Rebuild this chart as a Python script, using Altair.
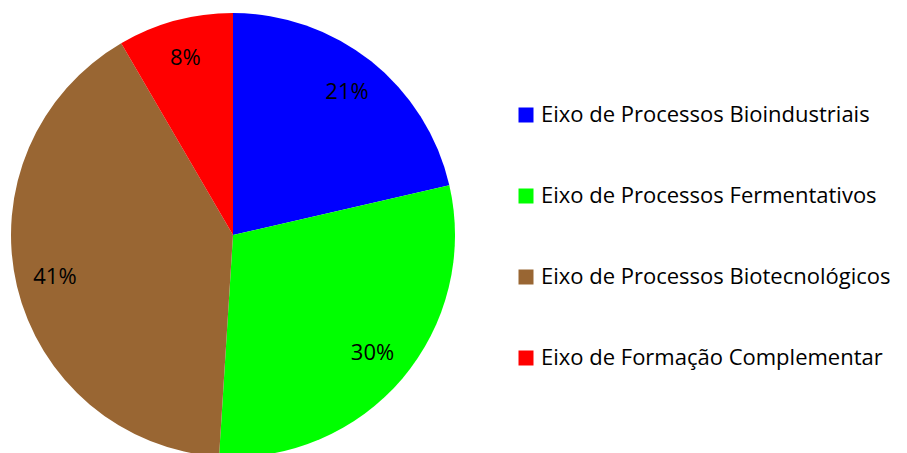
import altair as alt
import pandas as pd

categories = [
    "Eixo de Processos Bioindustriais",
    "Eixo de Processos Fermentativos",
    "Eixo de Processos Biotecnológicos",
    "Eixo de Formação Complementar",
]
values = [21.4, 29.6, 40.6, 8.4]
colors = ["#0000FF", "#00FF00", "#996633", "#FF0000"]

df = pd.DataFrame({
    "cat": categories,
    "value": values,
    "idx": list(range(len(categories))),
})
df["label"] = [f"{round(v)}%" for v in values]

FONT = "Open Sans"
cx, cy = 225, 227
R = 222

base = alt.Chart(df).encode(
    theta=alt.Theta("value:Q", stack=True),
    order=alt.Order("idx:Q"),
)

pie = base.mark_arc(outerRadius=R, stroke=None).encode(
    x=alt.value(cx),
    y=alt.value(cy),
    color=alt.Color(
        "cat:N",
        scale=alt.Scale(domain=categories, range=colors),
        sort=categories,
        legend=alt.Legend(
            title=None,
            orient="none",
            legendX=507,
            legendY=96,
            symbolType="square",
            symbolSize=225,
            symbolStrokeWidth=0,
            labelFont=FONT,
            labelFontSize=22,
            labelColor="#000000",
            labelOffset=4,
            rowPadding=59,
            labelLimit=420,
        ),
    ),
)

text = base.mark_text(
    radius=183, font=FONT, fontSize=22, color="#000000"
).encode(
    x=alt.value(cx),
    y=alt.value(cy),
    text="label:N",
)

chart = (pie + text).properties(
    width=891, height=445, autosize=alt.AutoSizeParams(type="none"), padding=0
).configure_view(stroke=None)

chart.save("out.html", embed_options={"renderer": "svg", "actions": False})
